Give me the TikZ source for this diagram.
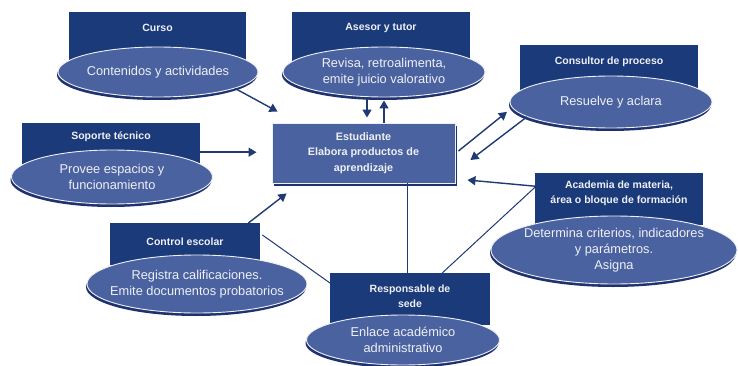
\documentclass[tikz,border=0pt]{standalone}
\usepackage{fontspec}
\setmainfont{Liberation Sans}
\usetikzlibrary{shapes.geometric,arrows.meta,shadows}
\definecolor{navy}{HTML}{1B3A7A}
\definecolor{ellblue}{HTML}{4A62A0}
\definecolor{shadowblue}{HTML}{1E3270}
\definecolor{lighttext}{HTML}{EEF0F5}
\definecolor{linecol}{HTML}{1F3A75}
\tikzset{
  head/.style={rectangle, fill=navy, draw=none, anchor=north west, inner sep=0pt},
  headtxt/.style={text=lighttext, font=\fontsize{10.5}{15.5}\selectfont\bfseries, align=center, inner sep=0pt},
  ell/.style={ellipse, fill=ellblue, draw=lighttext, line width=0.9pt, inner sep=0pt,
    drop shadow={shadow xshift=-1pt, shadow yshift=-3pt, fill=shadowblue, opacity=1}},
  elltxt/.style={text=lighttext, font=\fontsize{12.8}{16}\selectfont, align=center, inner sep=0pt},
  center/.style={rectangle, fill=ellblue, draw=lighttext, line width=0.9pt, text=lighttext,
    font=\fontsize{10.8}{15.5}\selectfont\bfseries, align=center,
    drop shadow={shadow xshift=2pt, shadow yshift=-3pt, fill=shadowblue, opacity=1}},
  arr/.style={draw=linecol, line width=1.4pt, -{Triangle[length=8pt,width=9pt]}},
  ln/.style={draw=linecol, line width=1pt}
}
\begin{document}
\begin{tikzpicture}[x=1pt,y=-1pt]
\useasboundingbox[fill=white] (0,0) rectangle (738,366);
% header boxes
\node[head, minimum width=177pt, minimum height=50pt] (curso) at (69,12) {};
\node[headtxt] (curso-t) at (157.5,28) {Curso};
\node[head, minimum width=178pt, minimum height=50pt] (asesor) at (292,12) {};
\node[headtxt] (asesor-t) at (381,28) {Asesor y tutor};
\node[head, minimum width=178pt, minimum height=47pt] (cons) at (520,45) {};
\node[headtxt] (cons-t) at (609,62) {Consultor de proceso};
\node[head, minimum width=178pt, minimum height=58pt] (sop) at (22,123) {};
\node[headtxt] (sop-t) at (111,137) {Soporte técnico};
\node[head, minimum width=150pt, minimum height=42pt] (ce) at (110,223) {};
\node[headtxt] (ce-t) at (185,242) {Control escolar};
\node[head, minimum width=160pt, minimum height=52pt] (resp) at (330,273) {};
\node[headtxt] (resp-t) at (410,296) {Responsable de\\sede};
\node[head, minimum width=168pt, minimum height=52pt] (acad) at (535,173) {};
\node[headtxt] (acad-t) at (619,193.5) {Academia de materia,\\área o bloque de formación};
% ellipses
\node[ell, minimum width=200pt, minimum height=50pt] (curso-e) at (158,72) {};
\node[elltxt] at (curso-e.center) {Contenidos y actividades};
\node[ell, minimum width=202pt, minimum height=50pt] (ae) at (384,72) {};
\node[elltxt] at (ae.center) {Revisa, retroalimenta,\\emite juicio valorativo};
\node[ell, minimum width=202pt, minimum height=52pt] (cons-e) at (611,102) {};
\node[elltxt] at (cons-e.center) {Resuelve y aclara};
\node[ell, minimum width=201pt, minimum height=54pt] (sop-e) at (112,177) {};
\node[elltxt] at (sop-e.center) {Provee espacios y\\funcionamiento};
\node[ell, minimum width=220pt, minimum height=58pt] (ce-e) at (197,284) {};
\node[elltxt] at (ce-e.center) {Registra calificaciones.\\Emite documentos probatorios};
\node[ell, minimum width=193pt, minimum height=50pt] (resp-e) at (403,340) {};
\node[elltxt] at (resp-e.center) {Enlace académico\\administrativo};
\node[ell, minimum width=246pt, minimum height=68pt] (acad-e) at (614,250) {};
\node[elltxt] at (acad-e.center) {Determina criterios, indicadores\\y parámetros.\\Asigna};
% center
\node[center, minimum width=183pt, minimum height=60pt] (est) at (363.5,153) {Estudiante\\Elabora productos de\\aprendizaje};
% connectors
\draw[arr] (curso-e.-12) -- ([shift={(6pt,11pt)}]est.north west);
\draw[arr] ([xshift=-17pt]ae.south) -- ([xshift=-17pt,yshift=5pt]ae.south |- est.north);
\draw[arr] (ae.south |- est.north) -- ([yshift=-3pt]ae.south);
\draw[arr] (sop.east) -- ([xshift=-15pt]sop.east -| est.west);
\draw[arr] ([shift={(3pt,2pt)}]est.east) -- ([xshift=-10pt]cons-e.186);
\draw[arr] (cons-e.190) -- ([shift={(15pt,-7pt)}]est.east);
\draw[arr] ([yshift=13pt]acad.west) -- ([shift={(12pt,-27pt)}]est.east);
\draw[ln] ([yshift=12pt]acad.west) -- ([xshift=32pt]resp.north);
\draw[ln] ([xshift=-3pt]resp.north |- est.south) -- ([xshift=-3pt]resp.north);
\draw[arr] ([xshift=-12pt]ce.north east) -- ([shift={(15pt,-10pt)}]est.south west);
\draw[ln] ([shift={(2pt,-12pt)}]ce.north east) -- ([yshift=-10pt]resp.north west);
\end{tikzpicture}
\end{document}
